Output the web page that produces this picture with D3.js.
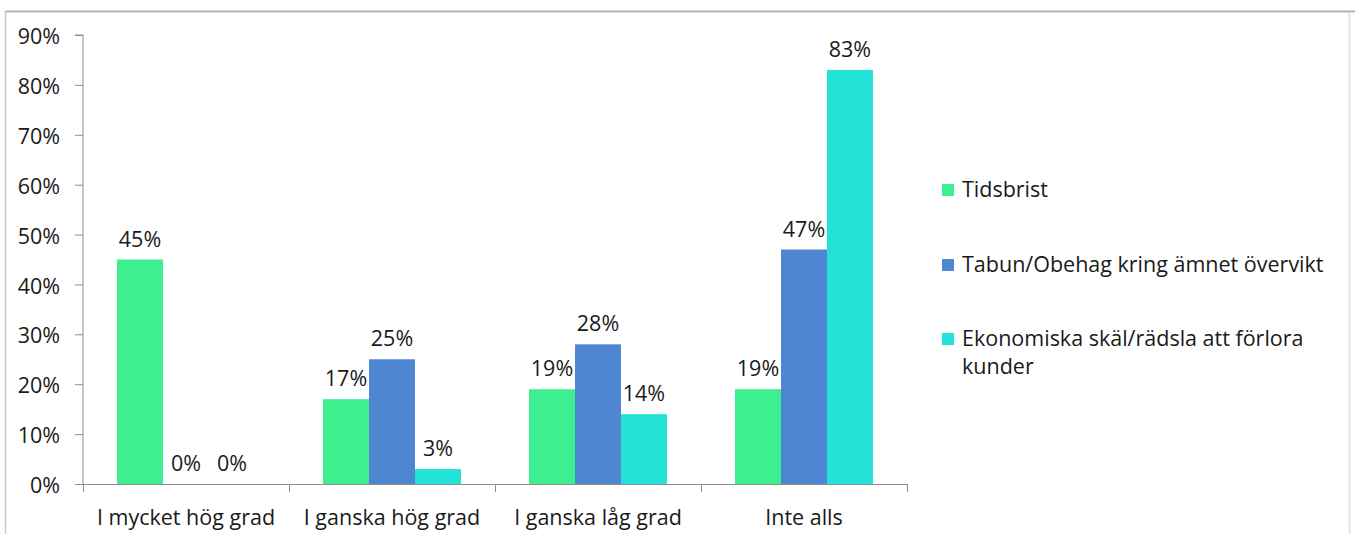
<!DOCTYPE html>
<html>
<head>
<meta charset="utf-8">
<script src="https://cdn.jsdelivr.net/npm/d3@7"></script>
<style>
  html, body { margin: 0; padding: 0; background: #fff; }
  svg { display: block; }
  text { font-family: "Open Sans", Lato, sans-serif; fill: #1a1a1a; }
</style>
</head>
<body>
<svg id="chart" width="1355" height="534"></svg>
<script>
// Survey answers, grouped by degree of agreement
const categories = ["I mycket hög grad", "I ganska hög grad", "I ganska låg grad", "Inte alls"];
const seriesNames = ["Tidsbrist", "Tabun/Obehag kring ämnet övervikt", "Ekonomiska skäl/rädsla att förlora kunder"];
const tidsbrist = [45, 17, 19, 19];
const tabun = [0, 25, 28, 47];
const ekonomiska = [0, 3, 14, 83];
const yTicks = [0, 10, 20, 30, 40, 50, 60, 70, 80, 90];
const colors = ["#3def8e", "#4f86d1", "#23e3d9"];

const seriesValues = [tidsbrist, tabun, ekonomiska];
const rows = categories.map((c, i) => ({
  category: c,
  values: seriesNames.map((s, j) => ({ series: s, idx: j, value: seriesValues[j][i] }))
}));

const svg = d3.select("#chart");
const FONT = "'Open Sans', Lato, sans-serif";
const FS = "21.5px";

// outer frame
svg.append("line").attr("x1", 5).attr("x2", 1355).attr("y1", 11.5).attr("y2", 11.5)
  .attr("stroke", "#b4b4b4").attr("stroke-width", 2);
svg.append("line").attr("x1", 5.5).attr("x2", 5.5).attr("y1", 11).attr("y2", 534)
  .attr("stroke", "#c8c8c8").attr("stroke-width", 1.5);
svg.append("line").attr("x1", 1349.5).attr("x2", 1349.5).attr("y1", 12).attr("y2", 534)
  .attr("stroke", "#e6e6e6").attr("stroke-width", 2);

const plot = { left: 83, right: 907, top: 35, bottom: 484 };

const x0 = d3.scaleBand().domain(categories).range([plot.left, plot.right]).paddingInner(0).paddingOuter(0);
const x1 = d3.scaleBand().domain(d3.range(seriesNames.length))
  .range([0, x0.bandwidth()]).paddingOuter(0.74).paddingInner(0);
const y = d3.scaleLinear().domain([0, 90]).range([plot.bottom, plot.top]);

// y axis
const yAxis = d3.axisLeft(y).tickValues(yTicks).tickFormat(d => d + "%").tickSize(8).tickPadding(15);
const yg = svg.append("g").attr("transform", `translate(${plot.left},0)`).call(yAxis);
yg.select(".domain").attr("stroke", "#8c8c8c").attr("d", `M-8,${plot.top}H0V${plot.bottom}`);
yg.selectAll(".tick line").attr("stroke", "#8c8c8c");
yg.selectAll(".tick text").style("font-size", FS).attr("fill", "#1a1a1a").style("font-family", FONT)
  .attr("dy", "0.4em");

// x axis
const xg = svg.append("g").attr("transform", `translate(0,${plot.bottom})`);
xg.append("line").attr("x1", plot.left).attr("x2", plot.right).attr("y1", 0.5).attr("y2", 0.5).attr("stroke", "#8c8c8c");
const boundaries = categories.map(c => x0(c)).concat([plot.right]);
xg.selectAll("line.tk").data(boundaries).join("line").attr("class", "tk")
  .attr("x1", d => d + 0.5).attr("x2", d => d + 0.5).attr("y1", 0).attr("y2", 8).attr("stroke", "#8c8c8c");
xg.selectAll("text").data(categories).join("text")
  .attr("x", d => x0(d) + x0.bandwidth() / 2).attr("y", 41)
  .attr("text-anchor", "middle").style("font-size", FS).text(d => d);

// bars
const groups = svg.selectAll("g.grp").data(rows).join("g").attr("class", "grp")
  .attr("transform", d => `translate(${x0(d.category)},0)`);
groups.selectAll("rect").data(d => d.values).join("rect")
  .attr("x", d => x1(d.idx)).attr("width", x1.bandwidth())
  .attr("y", d => y(d.value)).attr("height", d => y(0) - y(d.value))
  .attr("fill", d => colors[d.idx]);
groups.selectAll("text").data(d => d.values).join("text")
  .attr("x", d => x1(d.idx) + x1.bandwidth() / 2).attr("y", d => y(d.value) - 13)
  .attr("text-anchor", "middle").style("font-size", FS).text(d => d.value + "%");

// legend
const legendItems = [
  { lines: ["Tidsbrist"], y: 189 },
  { lines: ["Tabun/Obehag kring ämnet övervikt"], y: 264 },
  { lines: ["Ekonomiska skäl/rädsla att förlora", "kunder"], y: 338 }
];
const lg = svg.selectAll("g.leg").data(legendItems).join("g").attr("class", "leg")
  .attr("transform", d => `translate(942,${d.y})`);
lg.append("rect").attr("x", 0).attr("y", -5).attr("width", 12).attr("height", 12)
  .attr("fill", (d, i) => colors[i]);
lg.each(function(d) {
  const t = d3.select(this).append("text").attr("x", 20).attr("y", 8).style("font-size", FS);
  d.lines.forEach((l, k) => t.append("tspan").attr("x", 20).attr("dy", k === 0 ? 0 : 28).text(l));
});
</script>
</body>
</html>
